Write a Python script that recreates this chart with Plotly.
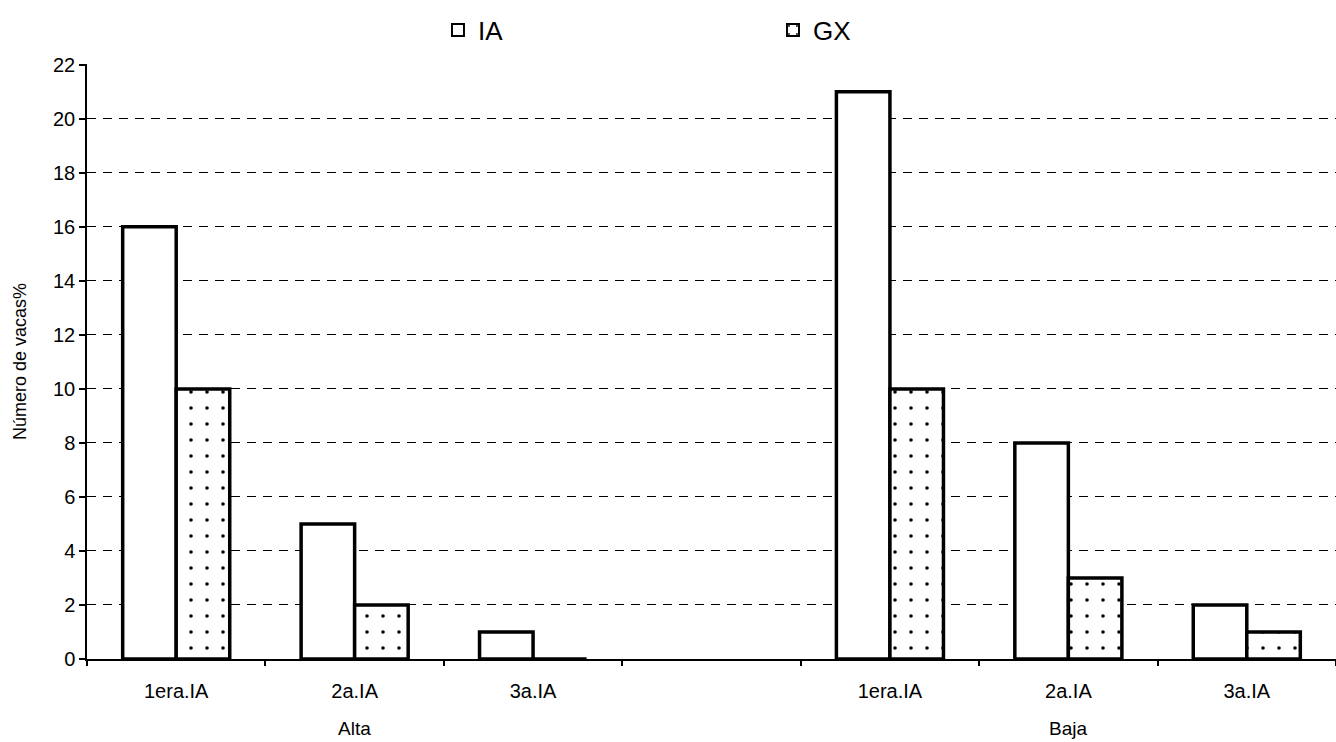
import plotly.graph_objects as go

# Slots along the x axis: three per group plus one empty slot between groups
slot_pos = [0, 1, 2, 4, 5, 6]
slot_labels = ["1era.IA", "2a.IA", "3a.IA", "1era.IA", "2a.IA", "3a.IA"]
groups = ["Alta", "Baja"]
group_pos = [1, 5]

ia_values = [16, 5, 1, 21, 8, 2]
gx_values = [10, 2, 0, 10, 3, 1]

y_ticks = list(range(0, 23, 2))
boundaries = [i - 0.5 for i in range(8)]

FONT = "Liberation Sans, Arial, sans-serif"

fig = go.Figure()
fig.add_trace(go.Bar(
    x=slot_pos, y=ia_values, name="IA",
    marker=dict(color="white", line=dict(color="black", width=3.5)),
))
fig.add_trace(go.Bar(
    x=slot_pos, y=gx_values, name="GX",
    marker=dict(
        color="white",
        line=dict(color="black", width=3.5),
        pattern=dict(shape=".", fgcolor="black", bgcolor="white", fgopacity=1,
                     size=16, solidity=0.04, fillmode="overlay"),
    ),
))
# invisible trace to carry the boundary tick axis
fig.add_trace(go.Scatter(x=[-0.5, 6.5], y=[0, 0], xaxis="x2", mode="none",
                         showlegend=False, hoverinfo="skip"))

for g, p in zip(groups, group_pos):
    fig.add_annotation(x=p, y=0, xref="x", yref="paper", yshift=-69,
                       yanchor="middle",
                       text=g, showarrow=False,
                       font=dict(family=FONT, size=19, color="black"))

fig.update_layout(
    width=1336, height=742,
    margin=dict(l=87, r=0, t=64, b=83),
    paper_bgcolor="white", plot_bgcolor="white",
    barmode="group", bargap=0.4, bargroupgap=0,
    font=dict(family=FONT, color="black"),
    legend=dict(orientation="h", x=0.281, y=1.057, xanchor="left", yanchor="middle",
                entrywidth=290, entrywidthmode="pixels",
                font=dict(size=26, family=FONT), itemsizing="constant"),
    xaxis=dict(range=[-0.5, 6.5], tickvals=slot_pos, ticktext=slot_labels,
               ticks="", showgrid=False, zeroline=False,
               showline=True, linecolor="black", linewidth=2,
               tickfont=dict(size=20, family=FONT), ticklabelstandoff=13),
    xaxis2=dict(range=[-0.5, 6.5], overlaying="x", tickvals=boundaries,
                showticklabels=False, ticks="outside", ticklen=6,
                tickcolor="black", tickwidth=1.5, showgrid=False,
                zeroline=False, side="bottom", anchor="y"),
    yaxis=dict(range=[0, 22.03], tickvals=y_ticks, ticks="outside", ticklen=6,
               tickcolor="black", tickwidth=1.5,
               showline=True, linecolor="black", linewidth=1.5,
               showgrid=True, gridcolor="black", gridwidth=1.4,
               griddash="9px,7px",
               zeroline=False, tickfont=dict(size=20, family=FONT),
               title=dict(text="Número de vacas%", font=dict(size=18, family=FONT),
                          standoff=22)),
)

fig.write_html("out.html")
